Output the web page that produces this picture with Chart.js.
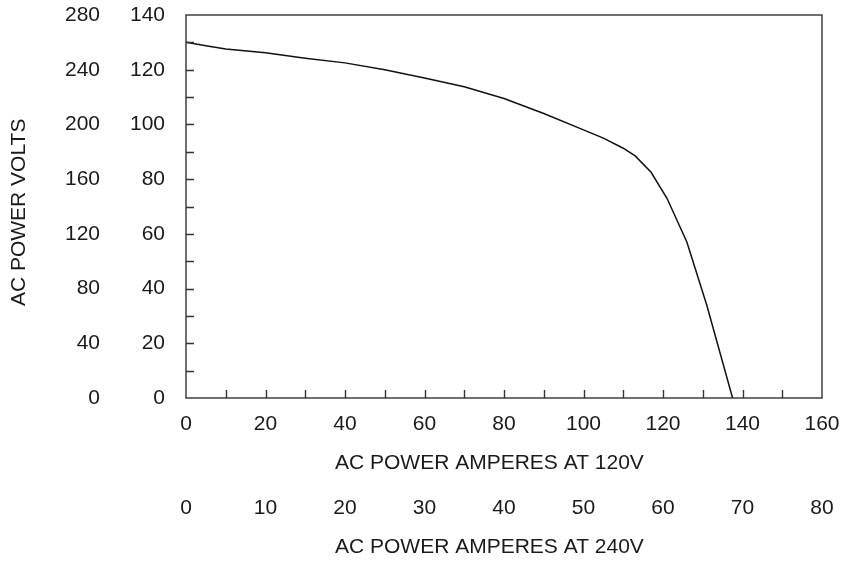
<!DOCTYPE html>
<html>
<head>
<meta charset="utf-8">
<script src="https://cdn.jsdelivr.net/npm/chart.js@4.4.1/dist/chart.umd.min.js"></script>
<style>
  html, body { margin: 0; padding: 0; background: #fff; }
  #wrap { width: 843px; height: 562px; }
</style>
</head>
<body>
<div id="wrap"><canvas id="grafico"></canvas></div>
<script>
// amperes at 120V (x) and volts on the 0-140 scale (y)
let amperes120 = [0, 5, 10, 20, 30, 40, 50, 60, 70, 80, 90, 100, 105, 110, 113, 117, 121, 126, 131, 137.5]
let volts = [130, 128.8, 127.6, 126.2, 124.2, 122.5, 120, 117, 113.8, 109.5, 104, 98, 95, 91.3, 88.5, 82.5, 73, 57, 34, 0]

let ticksX120 = [0, 160, 20]
let ticksX240 = [0, 80, 10]
let ticksVolts = [0, 140, 20]
let ticksVolts280 = [0, 280, 40]

let corTexto = "#1a1a1a";
let fonte = { family: "'Liberation Sans', Arial, sans-serif", size: 21 };

let pontos = amperes120.map((a, i) => ({ x: a, y: volts[i] }));

// moldura + ticks para dentro
const molduraPlugin = {
  id: "moldura",
  afterDatasetsDraw(chart) {
    let ctx = chart.ctx;
    let area = chart.chartArea;
    let sx = chart.scales.x;
    let sy = chart.scales.y;
    ctx.save();
    ctx.strokeStyle = "#333";
    ctx.lineWidth = 1.4;
    ctx.strokeRect(area.left, area.top, area.right - area.left, area.bottom - area.top);
    ctx.beginPath();
    for (let v = 10; v < ticksX120[1]; v += 10) {
      let px = Math.round(sx.getPixelForValue(v)) + 0.5;
      ctx.moveTo(px, area.bottom);
      ctx.lineTo(px, area.bottom - 8);
    }
    for (let v = 10; v < ticksVolts[1]; v += 10) {
      let py = Math.round(sy.getPixelForValue(v)) + 0.5;
      ctx.moveTo(area.left, py);
      ctx.lineTo(area.left + 8, py);
    }
    ctx.stroke();
    ctx.restore();
  },
};

function semSobraH(scale, h) {
  scale.height = h;
  scale.paddingLeft = 0;
  scale.paddingRight = 0;
}
function semSobraV(scale, w) {
  scale.width = w;
  scale.paddingTop = 0;
  scale.paddingBottom = 0;
}

const config = {
  type: "scatter",
  data: {
    datasets: [
      {
        data: pontos,
        showLine: true,
        borderColor: "#111",
        borderWidth: 1.5,
        pointRadius: 0,
        tension: 0,
      },
    ],
  },
  options: {
    responsive: true,
    maintainAspectRatio: false,
    animation: false,
    layout: { padding: { left: 0, top: 15, right: 21, bottom: 0 } },
    plugins: { legend: { display: false }, tooltip: { enabled: false } },
    scales: {
      x: {
        type: "linear",
        position: "bottom",
        weight: 0,
        min: ticksX120[0],
        max: ticksX120[1],
        ticks: { stepSize: ticksX120[2], color: corTexto, font: fonte, padding: 14, maxRotation: 0 },
        grid: { display: false, drawTicks: false },
        border: { display: false },
        title: { display: true, text: "AC POWER AMPERES AT 120V     ", color: corTexto, font: fonte, padding: { top: 0, bottom: 8 } },
        afterFit: (scale) => semSobraH(scale, 86),
      },
      x2: {
        type: "linear",
        position: "bottom",
        weight: 1,
        min: ticksX240[0],
        max: ticksX240[1],
        ticks: { stepSize: ticksX240[2], color: corTexto, font: fonte, padding: 12, maxRotation: 0 },
        grid: { display: false, drawTicks: false },
        border: { display: false },
        title: { display: true, text: "AC POWER AMPERES AT 240V     ", color: corTexto, font: fonte, padding: { top: 0, bottom: 2 } },
        afterFit: (scale) => semSobraH(scale, 78),
      },
      y: {
        type: "linear",
        position: "left",
        weight: 0,
        min: ticksVolts[0],
        max: ticksVolts[1],
        ticks: { stepSize: ticksVolts[2], color: corTexto, font: fonte, padding: 21 },
        grid: { display: false, drawTicks: false },
        border: { display: false },
        afterFit: (scale) => semSobraV(scale, 76),
      },
      y2: {
        type: "linear",
        position: "left",
        weight: 1,
        min: ticksVolts280[0],
        max: ticksVolts280[1],
        ticks: { stepSize: ticksVolts280[2], color: corTexto, font: fonte, padding: 10 },
        grid: { display: false, drawTicks: false },
        border: { display: false },
        title: { display: true, text: "AC POWER VOLTS  ", color: corTexto, font: fonte, padding: { top: 7, bottom: 0 } },
        afterFit: (scale) => semSobraV(scale, 110),
      },
    },
  },
  plugins: [molduraPlugin],
};

new Chart(document.getElementById("grafico"), config);
</script>
</body>
</html>
